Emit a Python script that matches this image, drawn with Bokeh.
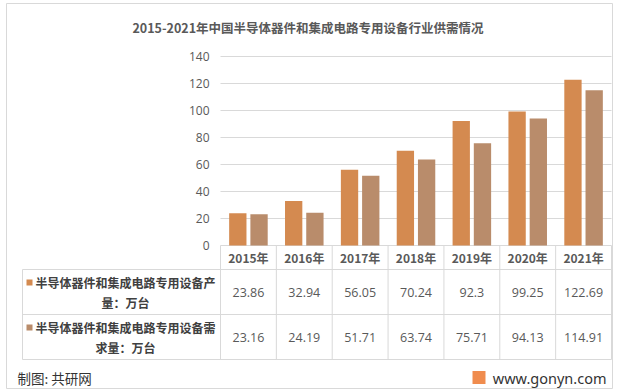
from bokeh.plotting import figure
from bokeh.models import Range1d, FixedTicker, LinearAxis, Grid
from bokeh.core.properties import value
from bokeh.embed import file_html
from bokeh.resources import INLINE

# ---------------- data ----------------
title_text = "2015-2021年中国半导体器件和集成电路专用设备行业供需情况"
years = ["2015年", "2016年", "2017年", "2018年", "2019年", "2020年", "2021年"]
production = [23.86, 32.94, 56.05, 70.24, 92.3, 99.25, 122.69]
demand = [23.16, 24.19, 51.71, 63.74, 75.71, 94.13, 114.91]
production_label = "半导体器件和集成电路专用设备产\n量：万台"
demand_label = "半导体器件和集成电路专用设备需\n求量：万台"
y_ticks = [0, 20, 40, 60, 80, 100, 120, 140]
source_text = "制图: 共研网"
site_text = "www.gonyn.com"

# ---------------- styles / layout ----------------
PROD_COLOR = "#D48A50"
DEM_COLOR = "#B98C6B"
GRID = "#D9D9D9"
TEXT = "#595959"
DARK = "#404040"
CJK = "Noto Sans CJK SC"
NUM = "Open Sans"

W, H = 621, 392
PLOT_L, PLOT_R = 220, 611      # plot area in pixels
ZERO_Y = 245                   # pixel row of value 0
PX_PER_UNIT = 1.35
n = len(years)
cw = (PLOT_R - PLOT_L) / n     # pixels per category


def X(px):
    return (px - PLOT_L) / cw


def Y(py):
    return (ZERO_Y - py) / PX_PER_UNIT


p = figure(width=W, height=H, x_range=Range1d(X(0), X(W)), y_range=Range1d(Y(H), Y(0)),
           x_axis_type=None, y_axis_type=None, min_border=0,
           output_backend="svg", toolbar_location=None)
p.outline_line_color = None
p.background_fill_color = "white"
p.border_fill_color = "white"

# y axis placed at the left edge of the plot area
yaxis = LinearAxis(fixed_location=0, ticker=FixedTicker(ticks=y_ticks), bounds=(0, max(y_ticks)))
yaxis.axis_line_color = None
yaxis.major_tick_line_color = None
yaxis.minor_tick_line_color = None
yaxis.major_tick_out = 0
yaxis.major_tick_in = 0
yaxis.major_label_standoff = 11
yaxis.major_label_text_font = NUM
yaxis.major_label_text_font_size = "12px"
yaxis.major_label_text_color = TEXT
p.add_layout(yaxis, "left")

# horizontal grid lines, limited to the plot area
grid = Grid(dimension=1, ticker=FixedTicker(ticks=y_ticks), grid_line_color=GRID)
if "cross_bounds" in grid.properties():
    grid.cross_bounds = (0, n)
    p.add_layout(grid)
else:
    p.segment(x0=[0] * len(y_ticks), x1=[n] * len(y_ticks), y0=y_ticks, y1=y_ticks,
              line_color=GRID, line_width=1)

# bars
idx = list(range(n))
p.vbar(x=[i + 0.5 - 0.19 for i in idx], top=production, bottom=0, width=0.31,
       fill_color=PROD_COLOR, line_color=None)
p.vbar(x=[i + 0.5 + 0.19 for i in idx], top=demand, bottom=0, width=0.31,
       fill_color=DEM_COLOR, line_color=None)

# outer frame
p.quad(left=[X(6)], right=[X(612)], top=[Y(3)], bottom=[Y(388)],
       fill_color=None, line_color=GRID, line_width=1)

# title
p.text(x=[X(307.5)], y=[Y(27)], text=[title_text], text_align="center",
       text_baseline="middle", text_font=value(CJK), text_font_size=value("12.5px"),
       text_font_style="bold", text_color=TEXT)

# ---------------- data table ----------------
row_lines = [269, 314, 359]
t_left = X(22)
p.segment(x0=[t_left] * 3, x1=[n] * 3, y0=[Y(r) for r in row_lines],
          y1=[Y(r) for r in row_lines], line_color=GRID, line_width=1)
vx = [t_left] + list(range(n + 1))
p.segment(x0=vx, x1=vx, y0=[Y(359)] * len(vx), y1=[Y(269)] + [0] * (n + 1),
          line_color=GRID, line_width=1)

centers = [i + 0.5 for i in idx]
p.text(x=centers, y=[Y(257)] * n, text=years, text_align="center",
       text_baseline="middle", text_font=value(CJK), text_font_size=value("12px"),
       text_font_style="bold", text_color=TEXT)
p.text(x=centers, y=[Y(291.5)] * n, text=[str(v) for v in production], text_align="center",
       text_baseline="middle", text_font=value(NUM), text_font_size=value("12.5px"),
       text_color=TEXT)
p.text(x=centers, y=[Y(336.5)] * n, text=[str(v) for v in demand], text_align="center",
       text_baseline="middle", text_font=value(NUM), text_font_size=value("12.5px"),
       text_color=TEXT)

p.text(x=[X(125)] * 2, y=[Y(292), Y(337)], text=[production_label, demand_label],
       text_align="center", text_baseline="middle", text_font=value(CJK),
       text_font_size=value("12px"), text_font_style="bold", text_color=DARK,
       text_line_height=1.15)
p.scatter(x=[X(29)] * 2, y=[Y(282), Y(327)], marker="square", size=6,
          fill_color=[PROD_COLOR, DEM_COLOR], line_color=None)

# ---------------- footer ----------------
p.text(x=[X(17)], y=[Y(377)], text=[source_text], text_align="left",
       text_baseline="middle", text_font=value(CJK), text_font_size=value("13.5px"),
       text_color="#333333")
p.text(x=[X(606)], y=[Y(377)], text=[site_text], text_align="right",
       text_baseline="middle", text_font=value("Noto Sans"), text_font_size=value("14.5px"),
       text_color="#333333")
p.scatter(x=[X(478.5)], y=[Y(377)], marker="square", size=13,
          fill_color="#F08C4E", line_color=None)

open("out.html", "w").write(file_html(p, INLINE))
